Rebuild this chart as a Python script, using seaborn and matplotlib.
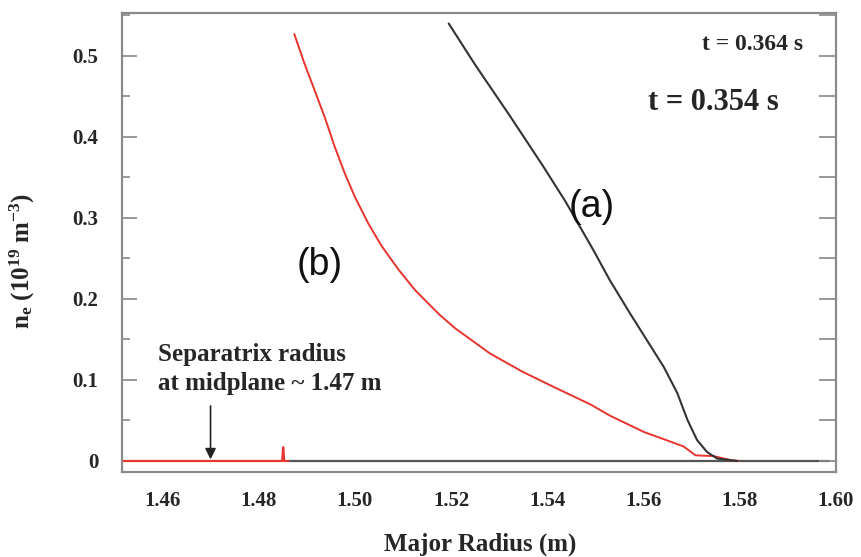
import numpy as np
import pandas as pd
import matplotlib
matplotlib.use("Agg")
import matplotlib.pyplot as plt
from matplotlib.ticker import MultipleLocator
import seaborn as sns

# ---- data ----
# (b) t = 0.354 s, red profile
red_x = [1.4874, 1.4895, 1.4916, 1.4937, 1.4958, 1.4979, 1.5000, 1.5028, 1.5056,
         1.5091, 1.5125, 1.5160, 1.5177, 1.5208, 1.5280, 1.5349, 1.5418, 1.5489,
         1.5530, 1.5600, 1.5683, 1.5708, 1.5746, 1.5781, 1.5797]
red_y = [0.527, 0.491, 0.458, 0.425, 0.388, 0.355, 0.326, 0.293, 0.265,
         0.236, 0.211, 0.190, 0.180, 0.164, 0.133, 0.110, 0.090, 0.070,
         0.056, 0.036, 0.018, 0.007, 0.006, 0.001, 0.000]
# red baseline (inside separatrix) with small spike
red_base_x = [1.4500, 1.4849, 1.4851, 1.4853, 1.4863]
red_base_y = [0.000, 0.000, 0.017, 0.000, 0.000]

# (a) t = 0.364 s, black profile
blk_x = [1.5195, 1.5250, 1.5321, 1.5390, 1.5438, 1.5495, 1.5530, 1.5572, 1.5607,
         1.5642, 1.5670, 1.5691, 1.5711, 1.5732, 1.5753, 1.5795]
blk_y = [0.540, 0.489, 0.427, 0.365, 0.320, 0.261, 0.223, 0.182, 0.149,
         0.116, 0.084, 0.051, 0.026, 0.011, 0.003, 0.000]
blk_base_x = [1.4866, 1.5985]
blk_base_y = [0.000, 0.000]

x_ticks = [1.46, 1.48, 1.50, 1.52, 1.54, 1.56, 1.58, 1.60]
x_tick_labels = ["1.46", "1.48", "1.50", "1.52", "1.54", "1.56", "1.58", "1.60"]
y_ticks = [0, 0.1, 0.2, 0.3, 0.4, 0.5]
y_tick_labels = ["0", "0.1", "0.2", "0.3", "0.4", "0.5"]

# ---- style ----
sns.set_style("white")
plt.rcParams["font.family"] = ["Liberation Serif", "DejaVu Serif"]
plt.rcParams["font.weight"] = "bold"
plt.rcParams["mathtext.fontset"] = "custom"
plt.rcParams["mathtext.rm"] = "Liberation Serif:bold"
plt.rcParams["mathtext.it"] = "Liberation Serif:bold:italic"
plt.rcParams["mathtext.bf"] = "Liberation Serif:bold"

fig = plt.figure(figsize=(8.61, 5.57), dpi=100)
ax = fig.add_axes([0.1417, 0.1526, 0.8293, 0.8241])

red = "#e8342e"
blk = "#333333"

sns.lineplot(x=red_base_x, y=red_base_y, ax=ax, color=red, lw=1.6, sort=False, estimator=None)
sns.lineplot(x=blk_base_x, y=blk_base_y, ax=ax, color="#555555", lw=1.6, sort=False, estimator=None)
sns.lineplot(x=red_x, y=red_y, ax=ax, color=red, lw=1.4, sort=False, estimator=None)
sns.lineplot(x=blk_x, y=blk_y, ax=ax, color=blk, lw=1.5, sort=False, estimator=None)

ax.set_xlim(1.4516, 1.60)
ax.set_ylim(-0.0136, 0.553)

ax.set_xticks(x_ticks)
ax.set_xticklabels(x_tick_labels)
ax.set_yticks(y_ticks)
ax.set_yticklabels(y_tick_labels)
ax.yaxis.set_minor_locator(MultipleLocator(0.05))

ax.tick_params(axis="x", which="both", length=0, pad=14, labelsize=15)
ax.tick_params(axis="y", which="major", direction="in", length=11, width=1.2,
               color="#888888", pad=17, labelsize=15)
ax.tick_params(axis="y", which="minor", direction="in", length=6, width=1.2,
               color="#888888")
for lab in ax.get_xticklabels() + ax.get_yticklabels():
    lab.set_fontweight("bold")

# right side ticks (all same length)
ax2 = ax.twinx()
ax2.set_ylim(ax.get_ylim())
ax2.yaxis.set_major_locator(MultipleLocator(0.05))
ax2.tick_params(axis="y", direction="in", length=12, width=1.2, color="#888888",
                labelright=False)
for a in (ax, ax2):
    for s in a.spines.values():
        s.set_color("#8a8a8a")
        s.set_linewidth(1.5)

ax.set_xlabel("Major Radius (m)", fontsize=18, fontweight="bold")
ax.xaxis.set_label_coords(0.501, -0.133)
ax.set_ylabel(r"n$_\mathrm{e}$ (10$^\mathrm{19}$ m$^\mathrm{-3}$)", fontsize=18, fontweight="bold")
ax.yaxis.set_label_coords(-0.119, 0.46)

# annotations
ax.text(1.4926, 0.242, "(b)", fontsize=27, family=["Liberation Sans", "DejaVu Sans"],
        fontweight="normal", ha="center", va="center", color="#111111")
ax.text(1.5493, 0.314, "(a)", fontsize=27, family=["Liberation Sans", "DejaVu Sans"],
        fontweight="normal", ha="center", va="center", color="#111111")
ax.text(1.5826, 0.514, "t = 0.364 s", fontsize=17, fontweight="bold", ha="center", va="center")
ax.text(1.5746, 0.443, "t = 0.354 s", fontsize=22, fontweight="bold", ha="center", va="center")
ax.text(1.4591, 0.131, "Separatrix radius", fontsize=18, fontweight="bold", ha="left", va="center")
ax.text(1.4591, 0.096, "at midplane ~ 1.47 m", fontsize=18, fontweight="bold", ha="left", va="center")
ax.annotate("", xy=(1.47, 0.002), xytext=(1.47, 0.068),
            arrowprops=dict(arrowstyle="-|>", color="#222222", lw=1.2, mutation_scale=16,
                            shrinkA=0, shrinkB=0))

fig.savefig("out.png", dpi=100, facecolor="white")
